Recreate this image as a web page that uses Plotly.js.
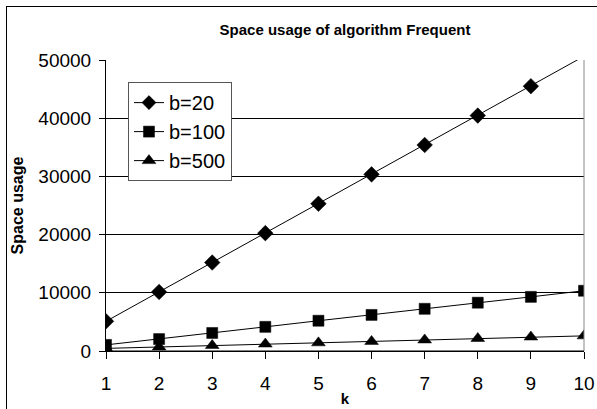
<!DOCTYPE html>
<html>
<head>
<meta charset="utf-8">
<script src="https://cdn.plot.ly/plotly-3.0.1.min.js"></script>
<style>
html,body{margin:0;padding:0;background:#fff;overflow:hidden;}
#frame{position:absolute;left:6px;top:6px;width:600px;height:420px;border:1px solid #000;box-sizing:border-box;}
#chart{position:absolute;left:0;top:0;width:597px;height:409px;}
</style>
</head>
<body>
<div id="frame"></div>
<div id="chart"></div>
<script>
const k = [1, 2, 3, 4, 5, 6, 7, 8, 9, 10];
const b20 = [5100, 10150, 15200, 20250, 25300, 30350, 35400, 40450, 45500, 50650];
const b100 = [1050, 2050, 3100, 4150, 5200, 6200, 7250, 8300, 9300, 10350];
const b500 = [450, 700, 950, 1200, 1400, 1650, 1900, 2150, 2400, 2600];
const seriesNames = ['b=20', 'b=100', 'b=500'];

const yMax = 50000;
const FONT = 'Liberation Sans, Arial, sans-serif';

function trace(y, name, symbol, size) {
  return {
    x: k, y: y, name: name, type: 'scatter', mode: 'lines+markers',
    line: {color: '#000', width: 1},
    marker: {symbol: symbol, color: '#000', opacity: 1, size: y.map(v => v > yMax ? 0 : size),
             line: {width: 0.5, color: '#000'}},
    cliponaxis: true
  };
}

const data = [
  trace(b20, seriesNames[0], 'diamond', 12),
  trace(b100, seriesNames[1], 'square', 11),
  trace(b500, seriesNames[2], 'triangle-up', 12)
];

const layout = {
  width: 597, height: 409,
  margin: {l: 106, r: 13, t: 60, b: 58},
  paper_bgcolor: 'rgba(0,0,0,0)', plot_bgcolor: '#fff',
  font: {family: FONT, color: '#000'},
  title: {text: '<b>Space usage of algorithm Frequent</b>', font: {size: 15, family: FONT},
          x: 0.5, xref: 'paper', xanchor: 'center', y: 0.928, yanchor: 'middle'},
  showlegend: true,
  legend: {x: 0.046, y: 0.924, xanchor: 'left', yanchor: 'top',
           bgcolor: '#fff', bordercolor: '#555', borderwidth: 1,
           font: {size: 20, family: FONT}, itemwidth: 30, tracegroupgap: 0},
  xaxis: {range: [1, 10], tickvals: k, ticktext: k.map(String),
          showgrid: false, zeroline: false, showline: true, linecolor: '#000', linewidth: 1,
          ticks: 'outside', ticklen: 7, tickcolor: '#000', tickfont: {size: 19},
          ticklabelstandoff: 8,
          title: {text: '<b>k</b>', font: {size: 15}, standoff: 0}},
  yaxis: {range: [0, yMax], dtick: 10000, tickformat: 'd', showgrid: true, gridcolor: '#000', gridwidth: 1,
          zeroline: false, showline: true, linecolor: '#000', linewidth: 1,
          ticks: 'outside', ticklen: 6, tickcolor: '#000', tickfont: {size: 19},
          ticklabelstandoff: 4,
          title: {text: '<b>Space usage</b>', font: {size: 16}, standoff: 10}},
  shapes: [
    {type: 'line', xref: 'paper', yref: 'paper', x0: 1, x1: 1, y0: 0, y1: 1,
     line: {color: '#888', width: 1}},
    {type: 'line', xref: 'paper', yref: 'paper', x0: 0, x1: 1, y0: 0, y1: 0,
     line: {color: '#000', width: 1}}
  ]
};

Plotly.newPlot('chart', data, layout, {displayModeBar: false, staticPlot: true});
</script>
</body>
</html>
